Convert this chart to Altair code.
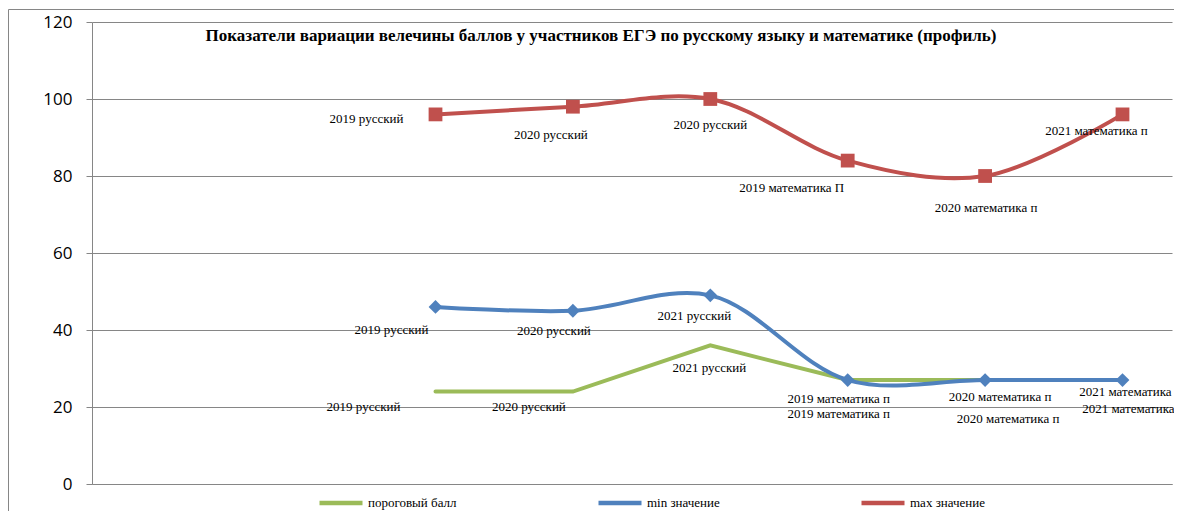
import altair as alt
import pandas as pd

# ---- data -------------------------------------------------------------
categories = ["", "", "2019 русский", "2020 русский", "2021 русский",
              "2019 математика", "2020 математика", "2021 математика"]
used = categories[2:]

threshold = [24, 24, 36, 27, 27, 27]
min_vals = [46, 45, 49, 27, 27, 27]
max_vals = [96, 98, 100, 84, 80, 96]

series_names = ["пороговый балл", "min значение", "max значение"]
series_colors = ["#9BBB59", "#4F81BD", "#C0504D"]

labels_thr = ["2019 русский", "2020 русский", "2021 русский",
              "2019 математика п", "2020 математика п", "2021 математика п"]
labels_min = ["2019 русский", "2020 русский", "2021 русский",
              "2019 математика п", "2020 математика п", "2021 математика п"]
labels_max = ["2019  русский", "2020 русский", "2020 русский",
              "2019 математика П", "2020 математика п", "2021 математика п"]

# label offsets (pixels) relative to their point
off_thr = [(-72, 15), (-44, 15), (-1, 23), (-9, 34), (23, 39), (11, 29)]
off_min = [(-44, 23), (-19, 20), (-16, 21), (-9, 19), (15, 17), (8, 12)]
off_max = [(-69, 5), (-22, 28), (0, 26), (-56, 27), (1, 32), (-26, 17)]

TITLE = "Показатели вариации велечины баллов у участников ЕГЭ по русскому языку и математике (профиль)"

# ---- geometry ---------------------------------------------------------
W, H = 1080, 462
PX_CAT = 137.4
XMAX = W / PX_CAT
YMAX = 120
PX_UNIT = H / YMAX

rows = []
lab_rows = []
for name, vals, labs, offs in [
    (series_names[0], threshold, labels_thr, off_thr),
    (series_names[1], min_vals, labels_min, off_min),
    (series_names[2], max_vals, labels_max, off_max),
]:
    for i, (cat, v) in enumerate(zip(used, vals)):
        xi = categories.index(cat) + 0.5
        rows.append({"series": name, "cat": cat, "x": xi, "v": v, "order": i})
        dx, dy = offs[i]
        lab_rows.append({"series": name, "label": labs[i],
                         "x": xi + dx / PX_CAT, "y": v - dy / PX_UNIT})

df = pd.DataFrame(rows)
lab = pd.DataFrame(lab_rows)

xs = alt.Scale(domain=[0, XMAX], nice=False, zero=False)
ys = alt.Scale(domain=[0, YMAX], nice=False)
cscale = alt.Scale(domain=series_names, range=series_colors)

X = alt.X("x:Q", scale=xs,
          axis=alt.Axis(labels=False, ticks=False, grid=False, title=None,
                        domainColor="#868686"))
Y = alt.Y("v:Q", scale=ys,
          axis=alt.Axis(values=list(range(0, 121, 20)), title=None,
                        grid=True, gridColor="#868686", domainColor="#868686",
                        tickColor="#868686", tickSize=6, labelFont="Open Sans",
                        labelFontSize=17, labelColor="#000", labelPadding=14))

base = alt.Chart(df)

leg_def = alt.Legend(orient="none", legendX=225, legendY=457,
                     direction="horizontal", title=None,
                     symbolType="stroke", symbolSize=1849,
                     symbolStrokeWidth=4.5, symbolOpacity=1,
                     labelFont="Liberation Serif",
                     labelFontSize=13, labelColor="#000",
                     labelOffset=3, columnPadding=132, padding=0)

smooth = base.transform_filter(
    alt.FieldOneOfPredicate(field="series", oneOf=series_names[1:])
).mark_line(interpolate="catmull-rom", strokeWidth=4, strokeCap="round").encode(
    x=X, y=Y, order="order:Q",
    color=alt.Color("series:N", scale=cscale, legend=leg_def))

straight = base.transform_filter(
    alt.FieldEqualPredicate(field="series", equal=series_names[0])
).mark_line(strokeWidth=4, strokeCap="round").encode(
    x=X, y=Y, order="order:Q",
    color=alt.Color("series:N", scale=cscale, legend=leg_def))

pts_min = base.transform_filter(
    alt.FieldEqualPredicate(field="series", equal=series_names[1])
).mark_point(filled=True, opacity=1, size=190, shape="diamond",
             color=series_colors[1]).encode(x=X, y=Y)

pts_max = base.transform_filter(
    alt.FieldEqualPredicate(field="series", equal=series_names[2])
).mark_point(filled=True, opacity=1, size=190, shape="square",
             color=series_colors[2]).encode(x=X, y=Y)

labels = alt.Chart(lab).mark_text(font="Liberation Serif", fontSize=13,
                                  color="#000", align="center",
                                  baseline="middle").encode(
    x=alt.X("x:Q", scale=xs), y=alt.Y("y:Q", scale=ys), text="label:N")

title = alt.Chart(pd.DataFrame({"t": [TITLE]})).mark_text(
    font="Liberation Serif", fontSize=17, fontWeight="bold", color="#000",
    align="center", baseline="middle").encode(
    x=alt.value(509), y=alt.value(14), text="t:N")

border = alt.Chart(pd.DataFrame({"a": [0]})).mark_rect(
    filled=False, stroke="#868686", strokeWidth=1).encode(
    x=alt.value(-83.5), x2=alt.value(1200), y=alt.value(-12.5), y2=alt.value(700))

chart = alt.layer(border, straight, smooth, pts_min, pts_max, labels, title).properties(
    width=W, height=H,
    autosize=alt.AutoSizeParams(type="none"),
    padding={"left": 84, "top": 14, "right": 2, "bottom": 27},
).configure_view(stroke=None)

chart.save("out.html", embed_options={"renderer": "svg", "actions": False})
